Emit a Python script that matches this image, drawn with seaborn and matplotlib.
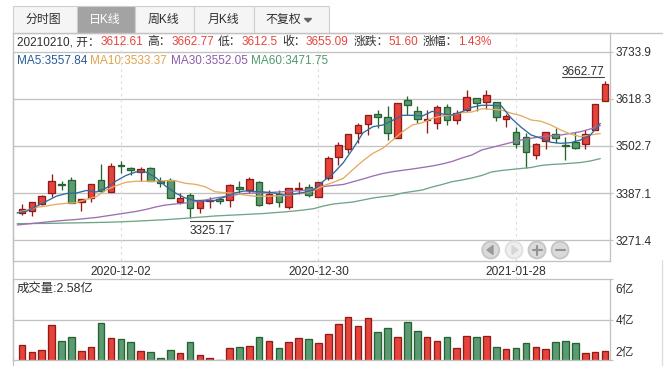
import matplotlib
matplotlib.use('Agg')
import numpy as np
import pandas as pd
import seaborn as sns
import matplotlib.pyplot as plt
from matplotlib.lines import Line2D
from matplotlib.patches import Circle, Polygon, Rectangle
from matplotlib.transforms import Affine2D

opens = [3337.6, 3342.6, 3360.5, 3386.7, 3409.5, 3418.6, 3364.6, 3374.4, 3418.6, 3390.6,
         3455.4, 3449.5, 3438.2, 3448.0, 3417.6, 3419.3, 3366.1, 3381.8, 3349.9, 3367.8,
         3372.0, 3369.5, 3401.4, 3395.5, 3413.7, 3363.6, 3384.2, 3353.8, 3397.2, 3401.4,
         3376.9, 3423.5, 3476.4, 3496.0, 3533.8, 3555.9, 3580.4, 3573.0, 3521.6, 3614.7,
         3587.8, 3566.4, 3558.3, 3597.6, 3567.2, 3591.7, 3619.6, 3609.8, 3611.3, 3569.6,
         3536.3, 3524.0, 3479.9, 3514.2, 3532.8, 3504.4, 3511.8, 3506.8, 3541.2, 3612.61]
closes = [3347.5, 3364.6, 3379.3, 3416.1, 3406.3, 3363.6, 3372.0, 3408.8, 3393.0, 3452.9,
          3452.9, 3444.6, 3445.5, 3417.6, 3411.2, 3374.4, 3374.4, 3349.9, 3369.5, 3370.3,
          3368.5, 3406.3, 3396.5, 3421.0, 3358.7, 3385.0, 3366.1, 3399.0, 3399.0, 3381.8,
          3415.6, 3474.0, 3504.4, 3531.4, 3553.4, 3577.9, 3573.0, 3533.8, 3608.8, 3602.5,
          3569.6, 3568.1, 3597.6, 3567.2, 3584.3, 3622.1, 3608.8, 3627.0, 3573.0, 3575.5,
          3506.8, 3487.2, 3506.8, 3536.3, 3521.6, 3503.4, 3498.5, 3532.8, 3604.9, 3655.09]
highs = [3360.5, 3365.4, 3382.5, 3434.0, 3416.1, 3425.9, 3372.0, 3408.8, 3457.8, 3460.3,
         3466.6, 3451.9, 3450.5, 3450.5, 3425.9, 3423.5, 3386.7, 3386.7, 3369.5, 3378.4,
         3378.4, 3409.5, 3416.1, 3426.7, 3416.1, 3394.8, 3394.8, 3399.0, 3413.7, 3409.5,
         3415.6, 3478.2, 3513.2, 3531.4, 3558.3, 3577.9, 3590.9, 3600.7, 3608.8, 3625.3,
         3600.7, 3590.9, 3603.2, 3604.9, 3590.9, 3640.0, 3619.6, 3640.0, 3611.3, 3581.1,
         3550.0, 3533.8, 3509.3, 3536.3, 3546.1, 3525.5, 3537.7, 3541.9, 3604.9, 3662.77]
lows = [3334.2, 3331.0, 3357.3, 3378.4, 3394.8, 3363.6, 3344.0, 3366.1, 3390.6, 3390.6,
        3437.2, 3431.6, 3417.6, 3417.6, 3402.9, 3374.4, 3359.7, 3325.17, 3339.1, 3349.9,
        3360.5, 3353.8, 3385.0, 3386.7, 3355.6, 3360.5, 3353.8, 3348.9, 3385.0, 3376.9,
        3376.9, 3419.3, 3456.1, 3486.2, 3510.8, 3529.6, 3546.1, 3517.4, 3521.6, 3578.7,
        3559.8, 3535.3, 3544.4, 3554.2, 3556.6, 3586.8, 3589.2, 3592.7, 3564.7, 3548.5,
        3497.8, 3448.7, 3471.5, 3496.0, 3509.3, 3467.6, 3494.6, 3494.6, 3541.2, 3612.5]
volumes = [2.78, 2.39, 2.49, 3.76, 2.93, 3.17, 2.44, 2.68, 3.85, 3.12,
           3.07, 2.88, 2.44, 2.39, 2.10, 2.49, 2.34, 2.88, 2.24, 2.10,
           2.02, 2.63, 2.68, 2.73, 3.17, 2.93, 2.63, 2.88, 3.12, 3.07,
           2.83, 3.32, 3.80, 4.15, 3.71, 4.10, 3.41, 3.61, 3.17, 3.90,
           3.46, 3.17, 2.93, 3.17, 2.59, 3.22, 3.17, 3.22, 2.68, 2.54,
           2.59, 2.83, 2.68, 2.54, 2.88, 2.93, 2.83, 2.34, 2.39, 2.44]
ma5 = [3338.4, 3343.3, 3355.6, 3367.8, 3380.1, 3386.2, 3387.5, 3393.6, 3389.9, 3399.7,
       3416.9, 3430.4, 3439.0, 3439.0, 3425.5, 3404.6, 3387.5, 3375.2, 3369.1, 3367.8,
       3369.1, 3377.7, 3387.5, 3392.4, 3391.1, 3389.9, 3387.5, 3382.6, 3385.0, 3388.7,
       3394.8, 3416.9, 3435.8, 3461.8, 3497.1, 3535.3, 3550.0, 3554.2, 3565.7, 3578.0,
       3578.0, 3576.3, 3587.8, 3581.2, 3578.7, 3586.8, 3597.6, 3602.5, 3602.5, 3600.8,
       3570.6, 3548.5, 3529.7, 3521.6, 3511.8, 3509.3, 3510.8, 3517.4, 3529.7, 3557.84]
ma10 = [3339.2, 3345.8, 3352.4, 3355.6, 3359.8, 3362.2, 3363.7, 3372.0, 3378.4, 3394.8,
        3405.4, 3413.7, 3416.2, 3416.2, 3416.2, 3417.6, 3417.6, 3411.2, 3408.8, 3402.9,
        3390.6, 3388.2, 3386.7, 3382.6, 3379.4, 3379.4, 3380.1, 3380.8, 3384.3, 3386.7,
        3393.6, 3405.4, 3413.7, 3423.5, 3445.6, 3466.7, 3484.8, 3497.1, 3517.4, 3537.8,
        3554.2, 3559.8, 3570.6, 3576.3, 3578.7, 3584.4, 3586.1, 3594.2, 3592.7, 3591.0,
        3582.9, 3577.0, 3566.5, 3563.3, 3554.2, 3541.9, 3532.1, 3525.5, 3529.7, 3533.37]
ma30 = [3309.0, 3311.5, 3313.9, 3316.4, 3318.8, 3320.8, 3322.5, 3325.0, 3327.4, 3331.1,
        3334.7, 3338.4, 3342.1, 3347.0, 3353.1, 3358.0, 3360.5, 3362.9, 3366.1, 3370.3,
        3375.2, 3378.9, 3382.6, 3386.2, 3387.5, 3388.2, 3389.4, 3390.7, 3391.9, 3393.6,
        3397.3, 3403.4, 3405.9, 3408.3, 3415.2, 3421.8, 3429.1, 3435.3, 3439.7, 3443.1,
        3446.3, 3450.0, 3453.7, 3458.6, 3464.7, 3473.3, 3480.6, 3492.9, 3499.0, 3505.2,
        3511.3, 3517.4, 3521.6, 3525.5, 3527.7, 3529.7, 3533.4, 3537.8, 3544.4, 3552.05]
ma60 = [3312.2, 3312.4, 3312.7, 3312.9, 3313.2, 3313.9, 3314.2, 3314.6, 3315.1, 3315.6,
        3316.4, 3317.3, 3318.3, 3319.5, 3320.8, 3322.0, 3323.7, 3325.4, 3327.4, 3329.1,
        3331.1, 3332.3, 3333.5, 3334.7, 3336.0, 3337.2, 3339.2, 3340.9, 3343.3, 3345.8,
        3349.0, 3355.6, 3360.5, 3362.9, 3365.4, 3370.3, 3375.2, 3378.4, 3381.3, 3387.5,
        3391.1, 3394.8, 3402.2, 3408.3, 3415.2, 3419.3, 3424.2, 3430.4, 3439.0, 3442.6,
        3445.1, 3447.5, 3450.0, 3454.9, 3457.3, 3458.6, 3460.3, 3462.2, 3465.9, 3471.75]

price_ticks = [3733.9, 3618.3, 3502.7, 3387.1, 3271.4]
date_ticks = [10, 30, 50]
date_labels = ['2020-12-02', '2020-12-30', '2021-01-28']
tabs = ['分时图', '日K线', '周K线', '月K线', '不复权']

RED, RED_EDGE = '#e6443b', '#8f1b1b'
GREEN, GREEN_EDGE = '#5b9a72', '#26642f'
GRID = '#c2c2c2'
TEXT = '#2e2e2e'
FONT = ['Liberation Sans', 'Noto Sans CJK SC', 'DejaVu Sans']

sns.set_theme(style='white')
plt.rcParams['font.family'] = FONT
plt.rcParams['font.size'] = 8.5

df = pd.DataFrame({'day': range(60), 'open': opens, 'close': closes, 'high': highs,
                   'low': lows, 'volume': volumes, 'ma5': ma5, 'ma10': ma10,
                   'ma30': ma30, 'ma60': ma60})
df['up'] = df['close'] >= df['open']
df['line_x'] = df['day'] - 0.48

W, H = 669, 373
fig = plt.figure(figsize=(W / 100, H / 100), dpi=100, facecolor='white')
# layout is worked out in reference pixels, y going down
pix = Affine2D().scale(1, -1).translate(0, H)


def make_axes(left, top, right, bottom):
    return fig.add_axes([left / W, 1 - bottom / H, (right - left) / W, (bottom - top) / H])


def put(x, y, s, color=TEXT, ha='left', size=8.5):
    fig.text(x, y, s, color=color, ha=ha, va='center', fontsize=size, transform=pix)


def rule(x0, y0, x1, y1, color=GRID, lw=0.95):
    fig.add_artist(Line2D([x0, x1], [y0, y1], color=color, lw=lw, transform=pix))


ax = make_axes(12.5, 32.5, 610.3, 260.7)
vol = make_axes(12.5, 279.3, 610.3, 360.3)
xlim = (-0.961, 59.536)

# price panel
ax.set_xlim(xlim)
ax.set_ylim(3221.4, 3781.0)
ax.hlines(price_ticks, *xlim, color=GRID, lw=0.95, zorder=1)
ax.vlines(date_ticks, -18.6 / 228.2, 1, transform=ax.get_xaxis_transform(), clip_on=False,
          color='#dddddd', lw=0.8, linestyles=(0, (2.5, 3)), zorder=1)

for up, face, edge in [(True, RED, RED_EDGE), (False, GREEN, GREEN_EDGE)]:
    part = df[df['up'] == up]
    ax.vlines(part['day'], part['low'], part['high'], color=edge, lw=0.95, zorder=2)
    lower = part[['open', 'close']].min(axis=1)
    upper = part[['open', 'close']].max(axis=1)
    ax.bar(part['day'], upper - lower, bottom=lower, width=0.67, color=face,
           edgecolor=edge, linewidth=0.95, zorder=3)

ma_styles = [('ma60', '#6fa586'), ('ma30', '#9b70b0'), ('ma10', '#e5ab62'), ('ma5', '#2f6a9f')]
for name, color in ma_styles:
    sns.lineplot(data=df, x='line_x', y=name, color=color, lw=0.95, ax=ax, zorder=4)

ax.annotate('3662.77', xy=(59, 3662.77), xytext=(-16, 1.6), textcoords='offset points',
            ha='center', va='bottom', color=TEXT, fontsize=8.5)
ax.annotate('3325.17', xy=(17, 3325.17), xytext=(15, -4.5), textcoords='offset points',
            ha='center', va='top', color=TEXT, fontsize=8.5)
rule(561.7, 77, 604.3, 77, color='#444444', lw=0.8)
rule(190, 221, 232.5, 221, color='#444444', lw=0.8)

ax.set_xticks(date_ticks, date_labels)
ax.yaxis.tick_right()
ax.set_yticks(price_ticks, [str(t) for t in price_ticks])
ax.tick_params(axis='x', length=0, pad=3.5, labelsize=8.6, labelcolor=TEXT)
ax.tick_params(axis='y', length=2.5, width=0.8, color=GRID, pad=1.5, labelsize=8.5, labelcolor=TEXT)
ax.set_xlabel('')
ax.set_ylabel('')

# volume panel
vol.set_xlim(xlim)
vol.set_ylim(2, 6)
vol.hlines(4, *xlim, color=GRID, lw=0.95, zorder=1)
vol_data = df.assign(bar_x=df['day'].astype(float))
for up, face, edge in [(True, RED, RED_EDGE), (False, GREEN, GREEN_EDGE)]:
    sns.barplot(data=vol_data[vol_data['up'] == up], x='bar_x', y='volume', native_scale=True,
                width=0.67, color=face, saturation=1, edgecolor=edge, linewidth=0.95,
                errorbar=None, ax=vol, zorder=2)
vol.set_xlim(xlim)
vol.set_ylim(2, 6)
vol.set_xticks([])
vol.yaxis.tick_right()
vol.set_yticks([2, 4, 6], ['', '', ''])
vol.tick_params(axis='y', length=2.5, width=0.8, color=GRID)
vol.set_xlabel('')
vol.set_ylabel('')

for a in (ax, vol):
    for side in a.spines:
        a.spines[side].set_color(GRID)
        a.spines[side].set_linewidth(0.95)

put(615.7, 290, '6亿')
put(615.7, 321, '4亿')
put(615.7, 353, '2亿')
put(17, 288.5, '成交量:2.58亿', size=8.9)

# frame bits outside the axes
rule(12.5, 32.5, 661.7, 32.5)
rule(12.5, 51.7, 12.5, 365)
rule(661.7, 260, 661.7, 365, color='#dddddd')

# tab bar
tab_edges = [12.7, 76.7, 135, 194, 253.7, 329.3]
tab_text_x = [43, 104.7, 163.3, 223, 283.7]
for i, label in enumerate(tabs):
    active = i == 1
    fig.add_artist(Rectangle((tab_edges[i], 6), tab_edges[i + 1] - tab_edges[i], 26.5,
                             facecolor='#a3a3a3' if active else '#f5f5f5', edgecolor='#cfcfcf',
                             lw=0.8, transform=pix))
    put(tab_text_x[i], 19.7, label, color='white' if active else TEXT, ha='center', size=8.6)
fig.add_artist(Polygon([(304.5, 18.5), (311.5, 18.5), (308, 22)], color='#666666', transform=pix))

# quote rows
quote = [(17, '20210210, 开:', TEXT), (101, '3612.61', RED), (147.5, '高:', TEXT),
         (171.7, '3662.77', RED), (218, '低:', TEXT), (241.7, '3612.5', RED),
         (282.7, '收:', TEXT), (306, '3655.09', RED), (353.3, '涨跌:', TEXT),
         (388.3, '51.60', RED), (422.3, '涨幅:', TEXT), (458.3, '1.43%', RED)]
for x, s, c in quote:
    put(x, 42.3, s.replace(':', '：'), color=c)
ma_row = [(17, 'MA5:3557.84', '#2a5a96'), (90, 'MA10:3533.37', '#e0a24e'),
          (170.7, 'MA30:3552.05', '#8c5ca8'), (250.7, 'MA60:3471.75', '#4f9a6e')]
for x, s, c in ma_row:
    put(x, 60.7, s, color=c)

# zoom buttons
buttons = [490.7, 514, 537, 560]
for k, cx in enumerate(buttons):
    disabled = k == 1
    fig.add_artist(Circle((cx, 250), 8.5, facecolor='#eeeeee' if disabled else '#dadada',
                          edgecolor='#e0e0e0' if disabled else '#c6c6c6', lw=1.3, transform=pix))
fig.add_artist(Polygon([(487, 250), (493, 245.5), (493, 254.5)], color='#9a9a9a', transform=pix))
fig.add_artist(Polygon([(512, 245.5), (518, 250), (512, 254.5)], color='#d6d6d6', transform=pix))
rule(532.5, 250, 541.5, 250, color='#939393', lw=1.5)
rule(537, 245.5, 537, 254.5, color='#939393', lw=1.5)
rule(555.5, 250, 564.5, 250, color='#939393', lw=1.5)

fig.savefig('out.png', dpi=100)
plt.close(fig)
